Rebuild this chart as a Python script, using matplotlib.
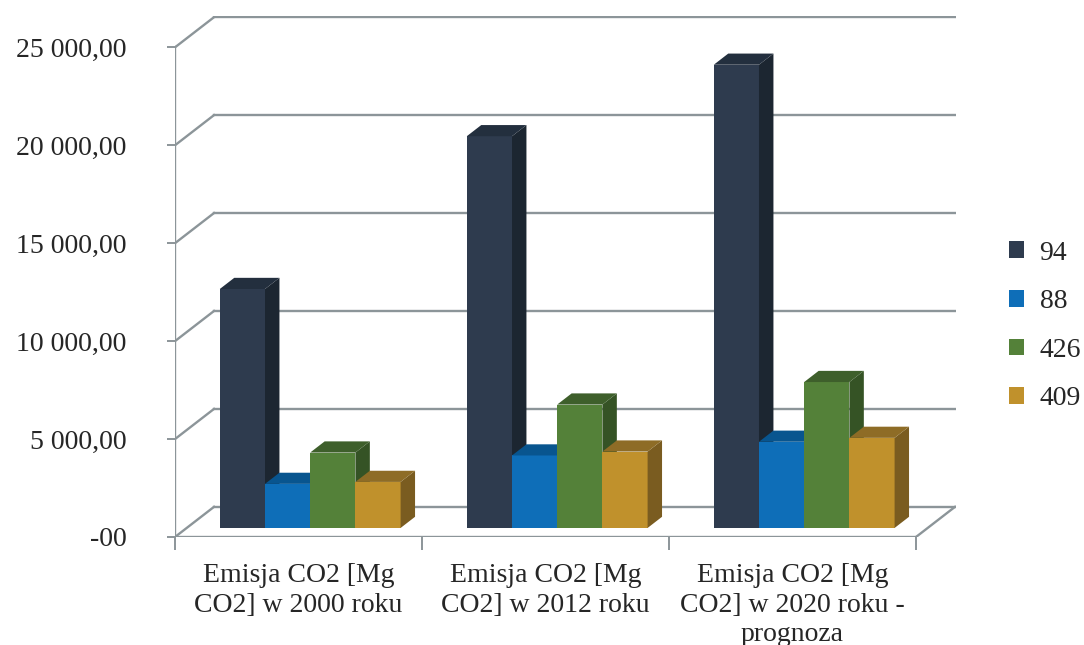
import numpy as np
import matplotlib
matplotlib.use('Agg')
import matplotlib.pyplot as plt
from matplotlib.patches import Polygon, Patch

# data
categories = ['Emisja CO2 [Mg\nCO2] w 2000 roku',
              'Emisja CO2 [Mg\nCO2] w 2012 roku',
              'Emisja CO2 [Mg\nCO2] w 2020 roku -\nprognoza']
series = ['94', '88', '426', '409']
v94  = [12200, 20000, 23650]
v88  = [2250, 3700, 4400]
v426 = [3850, 6300, 7450]
v409 = [2350, 3900, 4600]
yticks = [0, 5000, 10000, 15000, 20000, 25000]
ytick_labels = ['-00', '5 000,00', '10 000,00', '15 000,00', '20 000,00', '25 000,00']

values = [v94, v88, v426, v409]
front_c = ['#2E3B4E', '#0E6EB8', '#548139', '#C0912C']
top_c   = ['#232F3E', '#08558F', '#3E5F2B', '#8E6C26']
side_c  = ['#1C2631', '#074A7C', '#355325', '#7A5C20']

plt.rcParams['font.family'] = ['Liberation Serif', 'DejaVu Serif']
fs = 20
tcol = '#262626'
gcol = '#8C9599'

fig = plt.figure(figsize=(10.84, 6.45), dpi=100)
ax = fig.add_axes([175/1084, 1-537/645, (956-175)/1084, (537-16)/645])
ax.set_xlim(0, 3.162)
ax.set_ylim(0, 26600)
for s in ax.spines.values():
    s.set_visible(False)

# depth of the 3d box (data units)
Dx, Dy = 0.158, 1540
ncat = len(categories)

# walls: gridlines on back wall + diagonals on the left wall
for v in yticks:
    ax.plot([Dx, ncat + Dx], [v + Dy, v + Dy], color=gcol, lw=1.7, zorder=1)
    ax.plot([0, Dx], [v, v + Dy], color=gcol, lw=1.7, zorder=1)
# floor + front axis
ax.plot([0, ncat], [0, 0], color=gcol, lw=1.7, zorder=1)
ax.plot([ncat, ncat + Dx], [0, Dy], color=gcol, lw=1.7, zorder=1)
ax.plot([0, 0], [0, yticks[-1]], color=gcol, lw=1.7, zorder=1)

# bars
f0, fd = 0.30, 0.37            # bar front plane offset and bar depth, as fraction of box depth
ox, oy = f0 * Dx, f0 * Dy
bx, by = fd * Dx, fd * Dy
gap = 0.134
bw = (1 - 2 * gap) / len(series)
for ci in range(ncat):
    for si in range(len(series)):
        x0 = ci + gap + si * bw + ox
        h = values[si][ci]
        ax.bar(x0, h, width=bw, bottom=oy, align='edge', color=front_c[si], lw=0, zorder=3)
        top = [(x0, oy + h), (x0 + bw, oy + h), (x0 + bw + bx, oy + h + by), (x0 + bx, oy + h + by)]
        side = [(x0 + bw, oy), (x0 + bw + bx, oy + by), (x0 + bw + bx, oy + h + by), (x0 + bw, oy + h)]
        ax.add_patch(Polygon(side, closed=True, color=side_c[si], lw=0, zorder=3))
        ax.add_patch(Polygon(top, closed=True, color=top_c[si], lw=0, zorder=3))

# y axis ticks
ax.set_yticks(yticks)
ax.set_yticklabels(ytick_labels)
ax.tick_params(axis='y', length=6, width=1.4, color=gcol, pad=29, labelsize=fs, labelcolor=tcol)

# x axis: tick marks at category borders, labels at centres
ax.set_xticks(np.arange(ncat + 1))
ax.set_xticklabels([])
ax.tick_params(axis='x', which='major', length=9, width=1.4, color=gcol)
ax.set_xticks(np.arange(ncat) + 0.5, minor=True)
ax.set_xticklabels(categories, minor=True, fontsize=fs, color=tcol, linespacing=1.22, va='top')
ax.tick_params(axis='x', which='minor', length=0, pad=19)

handles = [Patch(facecolor=c, edgecolor='none') for c in front_c]
fig.legend(handles, series, loc='center left', bbox_to_anchor=(1009/1084, 1-326/645),
           frameon=False, fontsize=fs, labelcolor=tcol, handlelength=0.55, handleheight=0.55,
           handletextpad=0.55, labelspacing=0.85, borderpad=0, borderaxespad=0)

fig.savefig('out.png', dpi=100)
